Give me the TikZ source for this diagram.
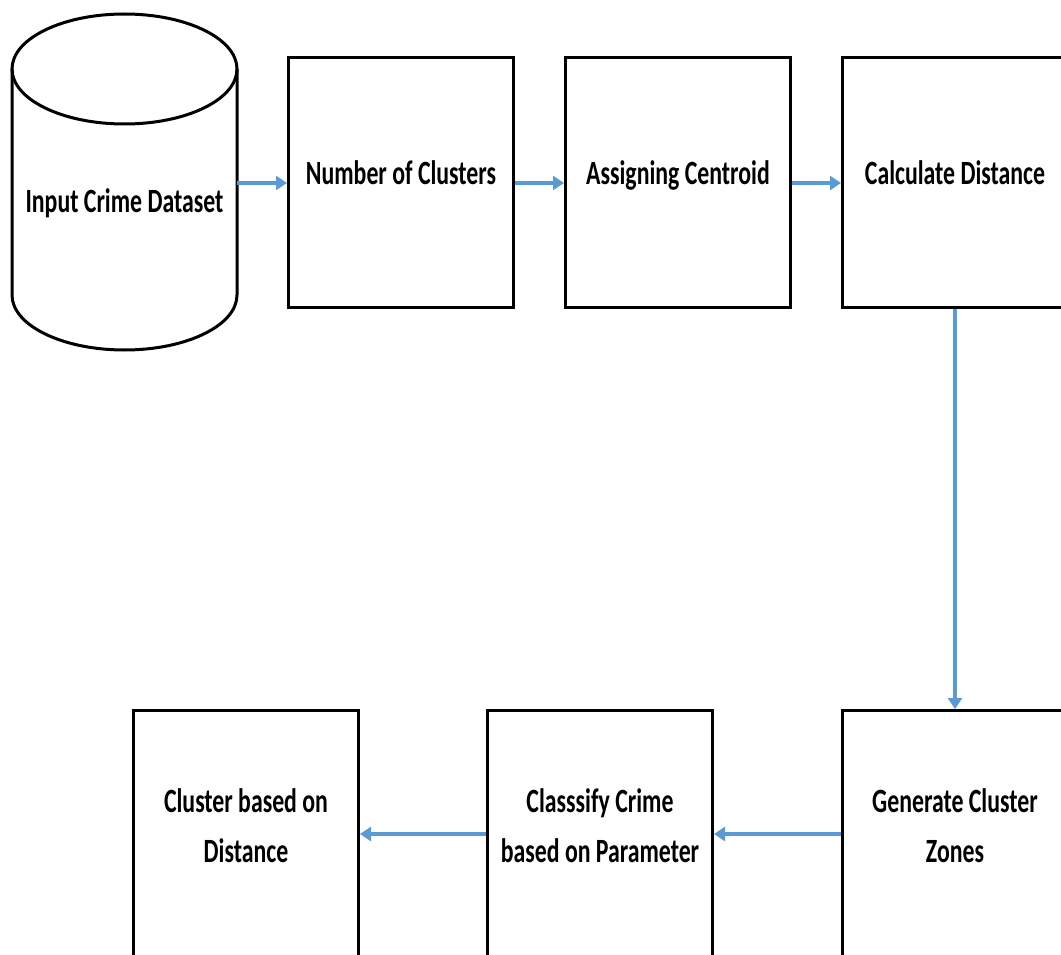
\documentclass[tikz,border=0pt]{standalone}
\usepackage{fontspec}
\setmainfont{Carlito}
\usetikzlibrary{arrows.meta}
\definecolor{arrowblue}{HTML}{5B9BD5}
\newcommand{\sqz}[1]{\scalebox{0.70}[1]{#1}}
\tikzset{
  stepbox/.style={draw=black,line width=3pt,fill=white,minimum width=225pt,minimum height=250pt,inner sep=0pt,anchor=north west},
  lbl/.style={font=\fontsize{34}{40}\selectfont\bfseries,anchor=base,inner sep=0pt},
  flow/.style={draw=arrowblue,line width=4pt,-{Triangle[length=11pt,width=14pt]}}
}
\begin{document}
\begin{tikzpicture}[x=1pt,y=-1pt]
\useasboundingbox (0,0) rectangle (1061,955);
\clip (0,0) rectangle (1061,955);
% cylinder
\coordinate (cyltop) at (124.5,69);
\draw[line width=3pt,fill=white] (12,69) -- (12,295) arc[start angle=180,end angle=0,x radius=112.5,y radius=55] -- (237,69);
\draw[line width=3pt] (cyltop) ellipse[x radius=112.5,y radius=55];
\node[lbl] (db) at (124.5,213) {\sqz{Input Crime Dataset}};
\coordinate (dbr) at (237,183);
% top row
\node[stepbox] (b1) at (287,56) {};
\node[stepbox] (b2) at (564,56) {};
\node[stepbox] (b3) at (841,56) {};
\node[lbl] (t1) at (b1.center |- 0,185) {\sqz{Number of Clusters}};
\node[lbl] (t2) at (b2.center |- 0,185) {\sqz{Assigning Centroid}};
\node[lbl] (t3) at (b3.center |- 0,185) {\sqz{Calculate Distance}};
% bottom row
\node[stepbox] (c1) at (132,709) {};
\node[stepbox] (c2) at (486,709) {};
\node[stepbox] (c3) at (841,709) {};
\node[lbl] (u1a) at (c1.center |- 0,812) {\sqz{Cluster based on}};
\node[lbl] (u1b) at (c1.center |- 0,862) {\sqz{Distance}};
\node[lbl] (u2a) at (c2.center |- 0,812) {\sqz{Classsify Crime}};
\node[lbl] (u2b) at (c2.center |- 0,862) {\sqz{based on Parameter}};
\node[lbl] (u3a) at (c3.center |- 0,812) {\sqz{Generate Cluster}};
\node[lbl] (u3b) at (c3.center |- 0,862) {\sqz{Zones}};
% connectors
\draw[flow] (dbr) -- (b1.west |- dbr);
\draw[flow] (b1.east |- dbr) -- (b2.west |- dbr);
\draw[flow] (b2.east |- dbr) -- (b3.west |- dbr);
\draw[flow] (b3.south) -- (c3.north);
\coordinate (brow) at (0,834);
\draw[flow] (c3.west |- brow) -- (c2.east |- brow);
\draw[flow] (c2.west |- brow) -- (c1.east |- brow);
\end{tikzpicture}
\end{document}
